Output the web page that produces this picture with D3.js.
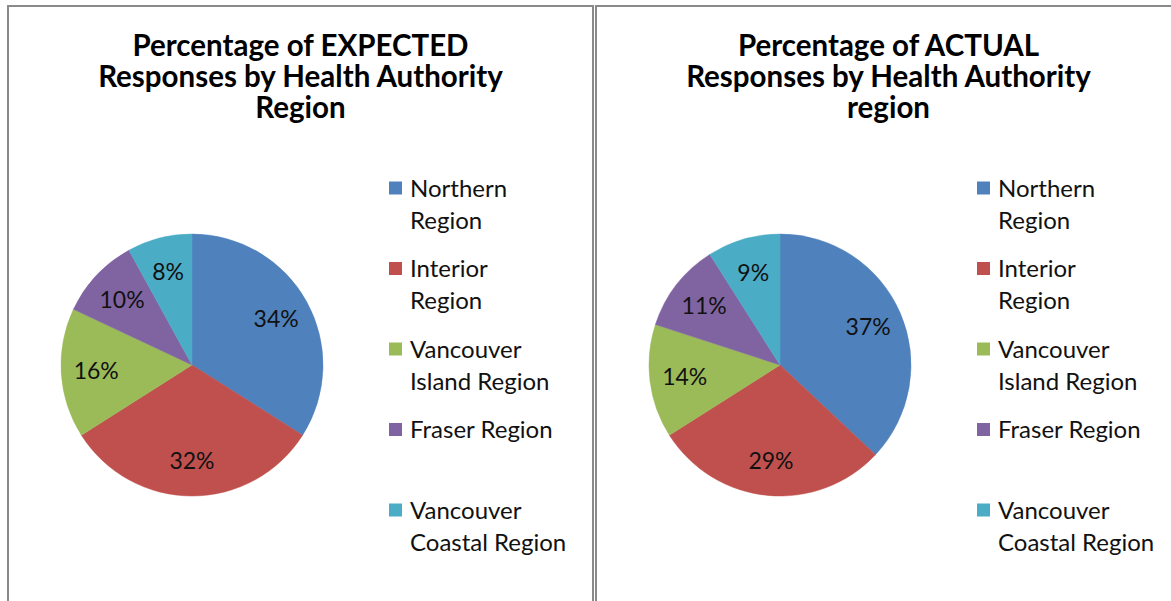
<!DOCTYPE html>
<html>
<head>
<meta charset="utf-8">
<script src="https://cdn.jsdelivr.net/npm/d3@7"></script>
<style>
  body { margin: 0; background: #fff; }
  svg text { font-family: Lato, "Open Sans", sans-serif; }
</style>
</head>
<body>
<svg id="chart" width="1171" height="601"></svg>
<script>
// data
const regions = ["Northern Region", "Interior Region", "Vancouver Island Region", "Fraser Region", "Vancouver Coastal Region"];
const legendLines = [["Northern", "Region"], ["Interior", "Region"], ["Vancouver", "Island Region"], ["Fraser Region"], ["Vancouver", "Coastal Region"]];
const expected = [34, 32, 16, 10, 8];
const actual = [37, 29, 14, 11, 9];
const colors = ["#4F81BD", "#C0504D", "#9BBB59", "#8064A2", "#4BACC6"];
const titleExpected = ["Percentage of EXPECTED", "Responses by Health Authority", "Region"];
const titleActual = ["Percentage of ACTUAL", "Responses by Health Authority", "region"];

const svg = d3.select("#chart");
svg.append("rect").attr("width", 1171).attr("height", 601).attr("fill", "#fff");

var color = d3.scaleOrdinal().domain(regions).range(colors);
var pie = d3.pie().sort(null).value(d => d.value);
var radius = 131;
var arc = d3.arc().innerRadius(0).outerRadius(radius);
var labelArc = d3.arc().innerRadius(96).outerRadius(96);

function draw_panel(px, pw, title, values, cx, legendX){
    var g = svg.append("g");
    // panel border
    g.append("rect")
    .attr("x", px).attr("y", 6)
    .attr("width", pw).attr("height", 640)
    .attr("fill", "none")
    .attr("stroke", "#8a8a8a")
    .attr("stroke-width", 2);

    // title
    g.append("text")
    .attr("x", px + pw/2)
    .attr("y", 56)
    .attr("text-anchor", "middle")
    .attr("font-size", "29.5px")
    .attr("font-weight", "bold")
    .attr("fill", "#000")
    .selectAll("tspan")
    .data(title)
    .join("tspan")
    .attr("x", px + pw/2)
    .attr("dy", (d, i) => i == 0 ? 0 : 31)
    .text(d => d);

    var data = regions.map((r, i) => ({name: r, value: values[i]}));
    var pg = g.append("g").attr("transform", "translate(" + cx + ",365)");
    pg.selectAll("path")
    .data(pie(data))
    .join("path")
    .attr("d", arc)
    .attr("fill", d => color(d.data.name))
    .attr("stroke", d => color(d.data.name))
    .attr("stroke-width", 0.5);

    pg.selectAll(".lbl")
    .data(pie(data))
    .join("text")
    .attr("class", "lbl")
    .attr("transform", d => "translate(" + labelArc.centroid(d) + ")")
    .attr("text-anchor", "middle")
    .attr("dy", "0.36em")
    .attr("font-size", "23px")
    .attr("fill", "#111")
    .text(d => d.data.value + "%");

    // legend
    var leg = g.append("g");
    var ly = d3.scalePoint().domain(regions).range([188, 510]);
    regions.forEach(function(r, i){
        leg.append("rect")
        .attr("x", legendX).attr("y", ly(r) - 6.5)
        .attr("width", 13).attr("height", 13)
        .attr("fill", color(r));
        leg.append("text")
        .attr("x", legendX + 21)
        .attr("y", ly(r))
        .attr("font-size", "24px")
        .attr("fill", "#111")
        .selectAll("tspan")
        .data(legendLines[i])
        .join("tspan")
        .attr("x", legendX + 21)
        .attr("dy", (d, j) => j == 0 ? "0.36em" : 32)
        .text(d => d);
    });
}

draw_panel(8, 585, titleExpected, expected, 192, 389);
draw_panel(596, 585, titleActual, actual, 780, 977);
</script>
</body>
</html>
